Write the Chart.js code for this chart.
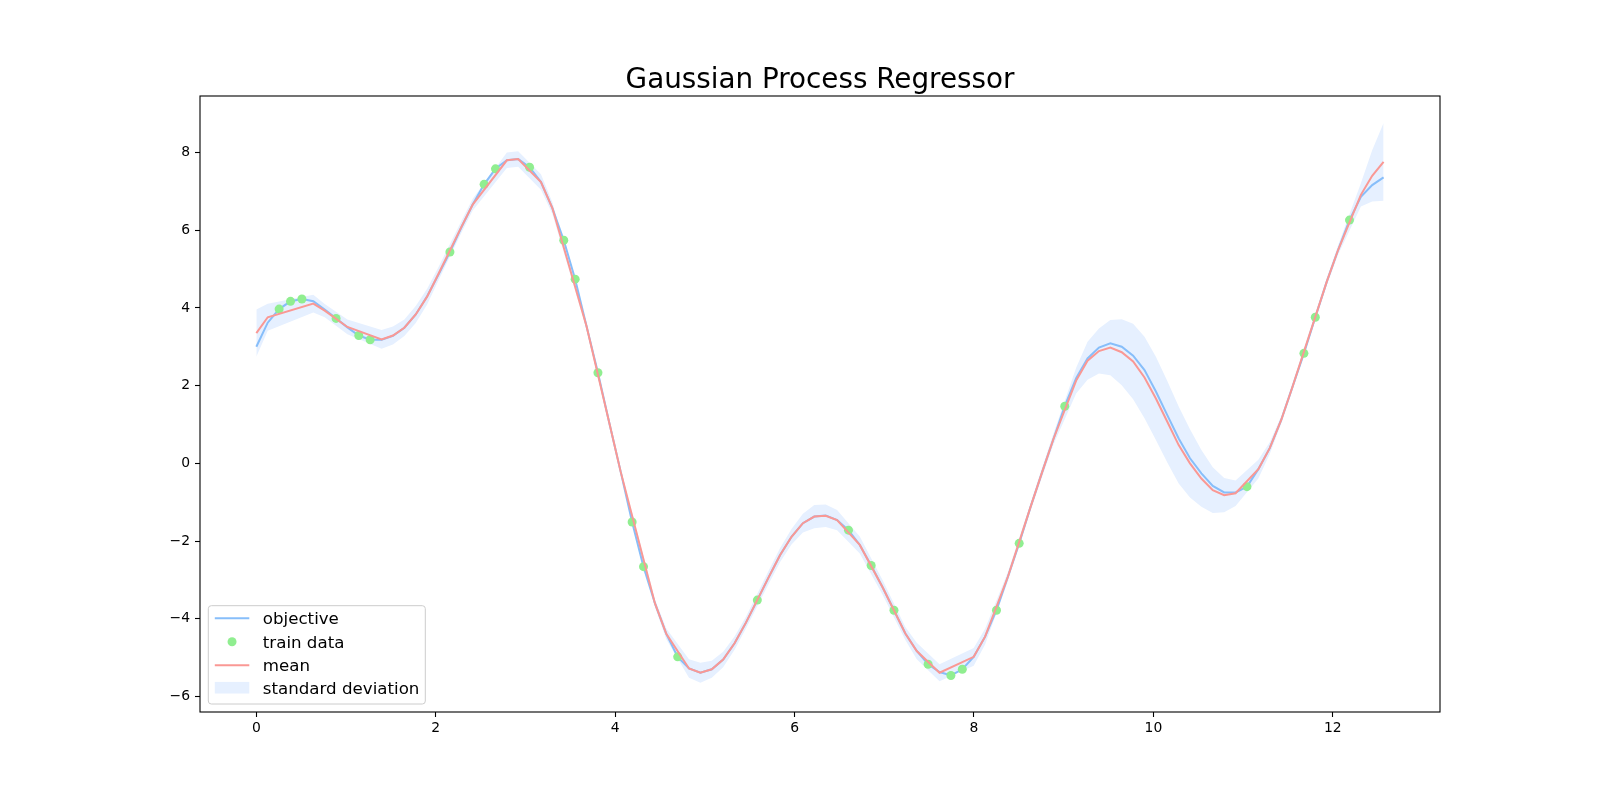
<!DOCTYPE html>
<html>
<head>
<meta charset="utf-8">
<script src="https://cdn.jsdelivr.net/npm/chart.js@4.4.1/dist/chart.umd.min.js"></script>
<style>
html,body{margin:0;padding:0;background:#fff;}
#wrap{width:1600px;height:800px;position:relative;}
</style>
</head>
<body>
<div id="wrap"><canvas id="c" width="1600" height="800"></canvas></div>
<script>
// ---- data ----
const chartTitle = "Gaussian Process Regressor";

// x grid of the objective (0 .. 4π, 100 samples)
const xGrid = [0.000,0.127,0.254,0.381,0.508,0.635,0.762,0.889,1.015,1.142,
1.269,1.396,1.523,1.650,1.777,1.904,2.031,2.158,2.285,2.412,
2.539,2.666,2.793,2.919,3.046,3.173,3.300,3.427,3.554,3.681,
3.808,3.935,4.062,4.189,4.316,4.443,4.570,4.697,4.823,4.950,
5.077,5.204,5.331,5.458,5.585,5.712,5.839,5.966,6.093,6.220,
6.347,6.474,6.601,6.727,6.854,6.981,7.108,7.235,7.362,7.489,
7.616,7.743,7.870,7.997,8.124,8.251,8.378,8.504,8.631,8.758,
8.885,9.012,9.139,9.266,9.393,9.520,9.647,9.774,9.901,10.028,
10.155,10.282,10.408,10.535,10.662,10.789,10.916,11.043,11.170,11.297,
11.424,11.551,11.678,11.805,11.932,12.059,12.186,12.313,12.439,12.566];

const objectiveY = [3.00,3.62,3.97,4.17,4.23,4.17,3.96,3.73,3.50,3.29,
3.18,3.18,3.28,3.49,3.83,4.30,4.86,5.44,6.07,6.66,
7.18,7.58,7.80,7.83,7.62,7.24,6.57,5.74,4.74,3.53,
2.33,1.04,-0.22,-1.51,-2.66,-3.60,-4.39,-4.98,-5.28,-5.39,
-5.30,-5.05,-4.63,-4.10,-3.52,-2.93,-2.36,-1.89,-1.54,-1.37,
-1.34,-1.46,-1.72,-2.10,-2.63,-3.19,-3.78,-4.38,-4.83,-5.17,
-5.37,-5.46,-5.30,-4.98,-4.46,-3.78,-2.92,-2.06,-1.12,-0.24,
0.62,1.47,2.19,2.70,2.98,3.09,3.00,2.77,2.40,1.85,
1.24,0.64,0.13,-0.26,-0.58,-0.75,-0.75,-0.60,-0.15,0.39,
1.11,1.97,2.83,3.76,4.67,5.49,6.26,6.86,7.16,7.36];

const trainX = [0.254,0.381,0.508,0.889,1.142,1.269,2.158,2.539,2.666,3.046,
3.427,3.554,3.808,4.189,4.316,4.697,5.585,6.601,6.854,7.108,
7.489,7.743,7.870,8.251,8.504,9.012,11.043,11.678,11.805,12.186];
const trainY = [3.97,4.17,4.23,3.73,3.29,3.18,5.44,7.18,7.58,7.62,
5.74,4.74,2.33,-1.51,-2.66,-4.98,-3.52,-1.72,-2.63,-3.78,
-5.17,-5.46,-5.30,-3.78,-2.06,1.47,-0.60,2.83,3.76,6.26];

const testX = [0.000,0.127,0.635,0.762,1.015,1.396,1.523,1.650,1.777,1.904,
2.031,2.285,2.412,2.793,2.919,3.173,3.300,3.681,3.935,4.062,
4.443,4.570,4.823,4.950,5.077,5.204,5.331,5.458,5.712,5.839,
5.966,6.093,6.220,6.347,6.474,6.727,6.981,7.235,7.362,7.616,
7.997,8.124,8.378,8.631,8.758,8.885,9.139,9.266,9.393,9.520,
9.647,9.774,9.901,10.028,10.155,10.282,10.408,10.535,10.662,10.789,
10.916,11.170,11.297,11.424,11.551,11.932,12.059,12.313,12.439,12.566];

const meanY = [3.35,3.76,4.11,3.93,3.51,3.19,3.29,3.49,3.83,4.29,
4.88,6.08,6.66,7.80,7.83,7.24,6.57,3.53,1.04,-0.22,
-3.60,-4.39,-5.28,-5.39,-5.30,-5.05,-4.63,-4.10,-2.93,-2.36,
-1.89,-1.54,-1.37,-1.35,-1.46,-2.10,-3.19,-4.38,-4.83,-5.39,
-4.98,-4.46,-2.92,-1.12,-0.24,0.62,2.13,2.64,2.89,2.98,
2.86,2.62,2.21,1.67,1.07,0.47,0.00,-0.39,-0.69,-0.82,
-0.77,-0.15,0.39,1.11,1.97,4.67,5.49,6.91,7.40,7.76];

// half-width of the shaded "standard deviation" band
const stdY = [0.61,0.35,0.23,0.17,0.19,0.24,0.23,0.21,0.22,0.20,
0.17,0.15,0.15,0.20,0.20,0.20,0.15,0.08,0.06,0.06,
0.10,0.14,0.24,0.26,0.22,0.20,0.17,0.15,0.17,0.18,
0.20,0.24,0.30,0.29,0.26,0.22,0.19,0.17,0.21,0.22,
0.23,0.20,0.12,0.10,0.12,0.14,0.33,0.49,0.58,0.71,
0.85,0.97,1.05,1.07,1.05,0.99,0.88,0.73,0.59,0.44,
0.33,0.24,0.15,0.10,0.10,0.10,0.12,0.30,0.66,1.00];

const legendLabels = ["objective","train data","mean","standard deviation"];

// ---- styles ----
const COL_OBJ = "rgb(135,190,250)";
const COL_TRAIN = "rgb(144,238,144)";
const COL_MEAN = "rgb(250,152,148)";
const COL_BAND = "rgb(230,240,255)";
const FONT = '"DejaVu Sans", "Liberation Sans", sans-serif';

const bandUpper = testX.map((x,i)=>({x:x, y:meanY[i]+stdY[i]}));
const bandLower = testX.map((x,i)=>({x:x, y:meanY[i]-stdY[i]}));

const minus = v => String(v).replace('-', '\u2212');

const decor = {
  id: 'decor',
  afterDraw(chart){
    const ctx = chart.ctx, a = chart.chartArea;
    ctx.save();
    // frame (all four spines)
    ctx.strokeStyle = '#000';
    ctx.lineWidth = 1.1;
    ctx.strokeRect(a.left, a.top, a.right - a.left, a.bottom - a.top);
    // title
    ctx.fillStyle = '#000';
    ctx.font = '27.8px ' + FONT;
    ctx.textAlign = 'center';
    ctx.textBaseline = 'alphabetic';
    ctx.fillText(chartTitle, (a.left + a.right)/2, a.top - 8);
    // legend box
    const bx = a.left + 8.3, by = a.bottom - 106.3, bw = 217, bh = 98.3, r = 3;
    ctx.beginPath();
    ctx.moveTo(bx + r, by);
    ctx.lineTo(bx + bw - r, by); ctx.arcTo(bx + bw, by, bx + bw, by + r, r);
    ctx.lineTo(bx + bw, by + bh - r); ctx.arcTo(bx + bw, by + bh, bx + bw - r, by + bh, r);
    ctx.lineTo(bx + r, by + bh); ctx.arcTo(bx, by + bh, bx, by + bh - r, r);
    ctx.lineTo(bx, by + r); ctx.arcTo(bx, by, bx + r, by, r);
    ctx.closePath();
    ctx.fillStyle = 'rgba(255,255,255,0.8)';
    ctx.fill();
    ctx.strokeStyle = 'rgb(204,204,204)';
    ctx.lineWidth = 1;
    ctx.stroke();
    const hx0 = bx + 6.5, hx1 = bx + 41, tx = bx + 54.5;
    const rows = [by + 12.5, by + 36, by + 59.5, by + 82];
    // objective
    ctx.strokeStyle = COL_OBJ; ctx.lineWidth = 2;
    ctx.beginPath(); ctx.moveTo(hx0, rows[0]); ctx.lineTo(hx1, rows[0]); ctx.stroke();
    // train data
    ctx.fillStyle = COL_TRAIN;
    ctx.beginPath(); ctx.arc((hx0 + hx1)/2, rows[1], 4.5, 0, Math.PI*2); ctx.fill();
    // mean
    ctx.strokeStyle = COL_MEAN;
    ctx.beginPath(); ctx.moveTo(hx0, rows[2]); ctx.lineTo(hx1, rows[2]); ctx.stroke();
    // std patch
    ctx.fillStyle = COL_BAND;
    ctx.fillRect(hx0, rows[3] - 5.8, hx1 - hx0, 11.6);
    // texts
    ctx.fillStyle = '#000';
    ctx.font = '16.67px ' + FONT;
    ctx.textAlign = 'left';
    ctx.textBaseline = 'alphabetic';
    legendLabels.forEach((t, i) => ctx.fillText(t, tx, rows[i] + 6));
    ctx.restore();
  }
};

new Chart(document.getElementById('c').getContext('2d'), {
  type: 'line',
  data: {
    datasets: [
      { label: 'band upper', data: bandUpper, borderWidth: 0, borderColor: 'rgba(0,0,0,0)',
        pointRadius: 0, fill: false, backgroundColor: COL_BAND, order: 10 },
      { label: legendLabels[3], data: bandLower, borderWidth: 0, borderColor: 'rgba(0,0,0,0)',
        pointRadius: 0, fill: '-1', backgroundColor: COL_BAND, order: 9 },
      { label: legendLabels[0], data: xGrid.map((x,i)=>({x:x, y:objectiveY[i]})),
        borderColor: COL_OBJ, borderWidth: 2, pointRadius: 0, fill: false, tension: 0, order: 3 },
      { label: legendLabels[1], data: trainX.map((x,i)=>({x:x, y:trainY[i]})),
        showLine: false, pointRadius: 4.5, pointBackgroundColor: COL_TRAIN, pointBorderColor: COL_TRAIN,
        pointBorderWidth: 0, backgroundColor: COL_TRAIN, order: 2 },
      { label: legendLabels[2], data: testX.map((x,i)=>({x:x, y:meanY[i]})),
        borderColor: COL_MEAN, borderWidth: 2, pointRadius: 0, fill: false, tension: 0, order: 1 }
    ]
  },
  options: {
    responsive: false,
    animation: false,
    events: [],
    devicePixelRatio: 1,
    layout: { padding: { left: 0, right: 160, top: 96, bottom: 0 } },
    plugins: { legend: { display: false }, title: { display: false }, tooltip: { enabled: false } },
    scales: {
      x: {
        type: 'linear', min: -0.628, max: 13.195,
        afterFit: s => { s.height = 88; },
        border: { display: false },
        grid: { display: true, drawOnChartArea: false, drawTicks: true, tickLength: 5, tickColor: '#000', tickWidth: 1.1 },
        ticks: { stepSize: 2, includeBounds: false, color: '#000', padding: 3,
                 font: { family: FONT, size: 13.9 }, callback: v => minus(v), maxRotation: 0 }
      },
      y: {
        type: 'linear', min: -6.40, max: 9.454,
        afterFit: s => { s.width = 200; },
        border: { display: false },
        grid: { display: true, drawOnChartArea: false, drawTicks: true, tickLength: 5, tickColor: '#000', tickWidth: 1.1 },
        ticks: { stepSize: 2, includeBounds: false, color: '#000', padding: 5,
                 font: { family: FONT, size: 13.9 }, callback: v => minus(v) }
      }
    }
  },
  plugins: [decor]
});
</script>
</body>
</html>
